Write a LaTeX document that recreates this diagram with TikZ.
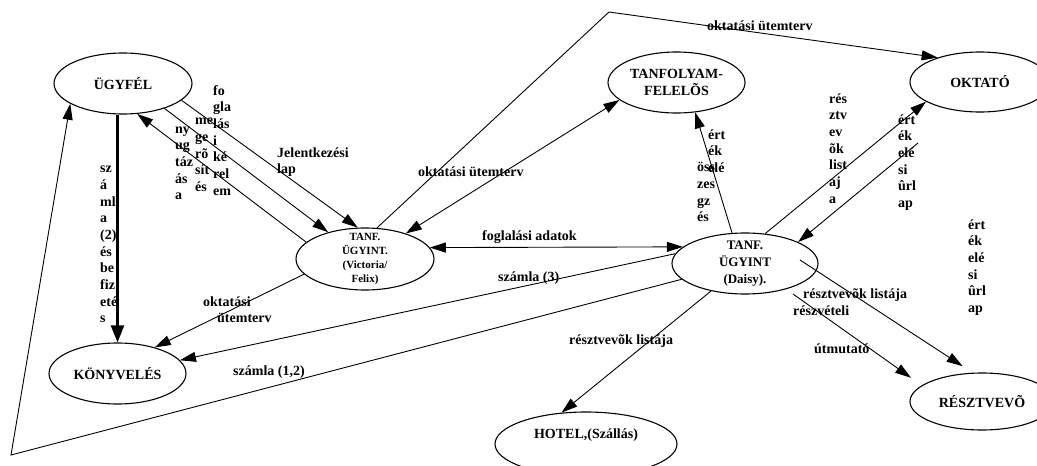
\documentclass[tikz,border=0pt]{standalone}
\usepackage{fontspec}
\setmainfont{Liberation Serif}
\usetikzlibrary{shapes.geometric,arrows.meta}

\begin{document}
\begin{tikzpicture}[x=1pt,y=-1pt,
  proc/.style={draw, ellipse, line width=1.1pt, inner sep=-5pt, align=center,
    font=\bfseries\fontsize{14}{17}\selectfont},
  tip/.style={Triangle[length=16pt,width=10pt]},
  flow/.style={line width=0.9pt, -{Triangle[length=16pt,width=10pt]}},
  both/.style={line width=0.9pt, {Triangle[length=16pt,width=10pt]}-{Triangle[length=16pt,width=10pt]}},
  lbl/.style={inner sep=0pt, align=left, font=\bfseries\fontsize{14}{16.7}\selectfont},
  col/.style={lbl, anchor=north west, yshift=11.7pt},
  word/.style={lbl, anchor=west},
]
\useasboundingbox (0,0) rectangle (1037,466);
\clip (0,0) rectangle (1037,466);

% processes and external parties
\node[proc, minimum width=138pt, minimum height=61pt] (ug) at (123,83.5) {ÜGYFÉL};
\node[proc, minimum width=138pt, minimum height=62pt,
      font=\bfseries\fontsize{11}{13.7}\selectfont] (vic) at (365,259) {TANF.\\ÜGYINT.\\(Victoria/\\Felix)};
\node[proc, minimum width=146pt, minimum height=61pt,
      font=\bfseries\fontsize{13}{16.7}\selectfont] (dai) at (745,263.5) {TANF.\\ÜGYINT\\(Daisy).};
\node[proc, minimum width=137pt, minimum height=61pt] (tf) at (676.5,82.5) {TANFOLYAM-\\FELELÕS};
\node[proc, minimum width=140pt, minimum height=60pt] (okt) at (980,82) {OKTATÓ};
\node[proc, minimum width=144pt, minimum height=57pt] (res) at (982,401.5) {RÉSZTVEVÕ};
\node[proc, minimum width=182pt, minimum height=64pt,
      text height=10pt, text depth=22pt] (hot) at (586,444) {HOTEL,(Szállás)};
\node[proc, minimum width=137pt, minimum height=61pt] (kon) at (117.5,373.5) {KÖNYVELÉS};

% free corners and loose line ends
\coordinate (apex) at (609,12);
\coordinate (corner) at (11,455);
\coordinate (formstart) at (918,143);
\coordinate (liststart) at (800,260);
\coordinate (guidestart) at (793,294);

% flows between customer and course administration
\draw[flow] (ug.-16) -- (vic.103);
\draw[flow] (ug.-31.5) -- (vic.144);
\draw[flow] (vic.164) -- (ug.-65);
\draw[line width=2.2pt, -{Triangle[length=17pt,width=13pt]}] (kon.north |- ug.south) -- (kon.north);

\draw[both] (vic.32) -- (tf.197);
\draw[flow] (vic.194) -- (kon.35);
\draw[both] (vic.10.7) -- (dai.165);
\draw[flow] (vic.69) -- (apex) -- (okt.150);

% flows out of the second administrator
\draw[flow] (dai.194) -- (corner) -- (ug.201);
\draw[flow] (dai.172.5) -- (kon.12);
\draw[flow] (dai.113) -- (tf.-58);
\draw[flow] (dai.56) -- (okt.200);
\draw[flow] (formstart) -- (dai.22);
\draw[flow, shorten >=12pt] (liststart) -- (res.108);
\draw[flow, shorten >=13pt] (guidestart) -- (res.165);
\draw[flow] (dai.219.5) -- (hot.128);

% flow labels
\node[col] (l1) at (100,172.5) {\strut sz\\á\\ml\\a\\(2)\\és\\be\\fiz\\eté\\s};
\node[col] (l2) at (213,95) {\strut fo\\gla\\lás\\i\\ké\\rel\\em};
\node[col] (l3) at (195,124.5) {\strut me\\ge\\rõ\\sít\\és};
\node[col] (l4) at (175,133) {\strut ny\\ug\\táz\\ás\\a};
\node[col] (l5) at (277,157) {\strut Jelentkezési\\lap};
\node[col] (l6) at (203,306) {\strut oktatási\\\hspace*{14pt}ütemterv};
\node[word] (l7) at (418,172) {oktatási ütemterv};
\node[word] (l8) at (707,26) {oktatási ütemterv};
\node[word] (l9) at (482,237) {foglalási adatok};
\node[word] (l10) at (498,278) {számla (3)};
\node[word] (l11) at (233,372) {számla (1,2)};
\node[col] (l12) at (708,139) {\strut ért\\ék\\elé};
\node[col] (l13) at (697,171.5) {\strut öss\\zes\\gz\\és};
\node[col] (l14) at (829,103) {\strut rés\\ztv\\ev\\õk\\list\\aj\\a};
\node[col] (l15) at (898,124) {\strut ért\\ék\\elé\\si\\ûrl\\ap};
\node[col] (l16) at (968,229) {\strut ért\\ék\\elé\\si\\ûrl\\ap};
\node[word] (l17) at (803,295) {résztvevõk listája};
\node[word] (l18) at (793,311) {részvételi};
\node[word] (l19) at (814,349) {útmutató};
\node[word] (l20) at (569,341) {résztvevõk listája};
\end{tikzpicture}
\end{document}
